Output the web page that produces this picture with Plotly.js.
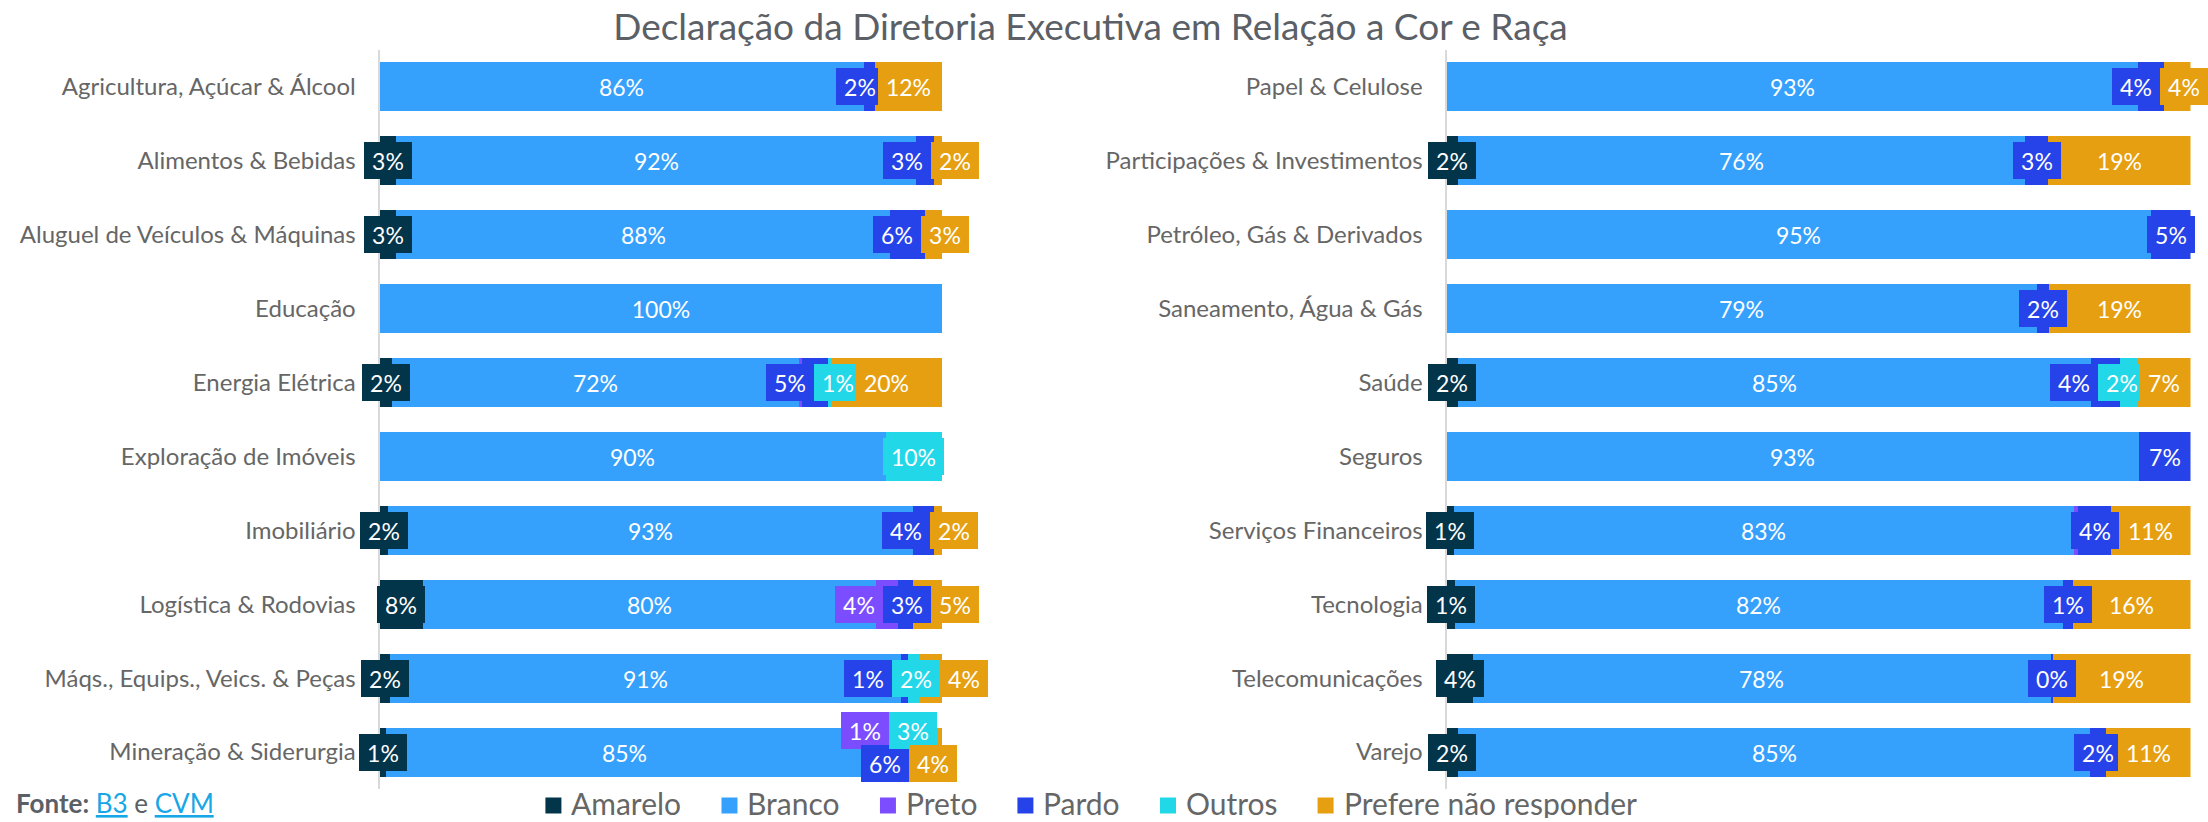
<!DOCTYPE html>
<html><head><meta charset="utf-8">
<script src="https://cdn.plot.ly/plotly-3.0.1.min.js"></script>
<style>html,body{margin:0;padding:0;background:#fff}#chart{width:2208px;height:822px}</style>
</head><body><div id="chart"></div>
<script>
// ---------------- DATA ----------------
const seriesNames = ['Amarelo', 'Branco', 'Preto', 'Pardo', 'Outros', 'Prefere não responder'];
const seriesColors = ['#02344a', '#35a1fd', '#7c4dff', '#2642e9', '#22d8e8', '#e69f10'];

const leftCategories = ['Agricultura, Açúcar & Álcool', 'Alimentos & Bebidas', 'Aluguel de Veículos & Máquinas', 'Educação', 'Energia Elétrica', 'Exploração de Imóveis', 'Imobiliário', 'Logística & Rodovias', 'Máqs., Equips., Veics. & Peças', 'Mineração & Siderurgia'];
const leftAmarelo = [0, 3.0, 3.0, 0, 2.2, 0, 1.5, 7.8, 1.8, 1.1];
const leftBranco  = [86.1, 92.4, 87.8, 100, 72.4, 90.0, 93.3, 80.4, 90.9, 85.0];
const leftPreto   = [0, 0, 0, 0, 0.5, 0, 0, 4.0, 0, 0.9];
const leftPardo   = [2.0, 3.1, 6.2, 0, 4.6, 0, 3.7, 2.6, 1.3, 6.1];
const leftOutros  = [0, 0, 0, 0, 0.6, 10.0, 0, 0, 2.0, 3.0];
const leftPrefere = [11.9, 1.5, 3.0, 0, 19.7, 0, 1.5, 5.2, 4.0, 3.9];

const rightCategories = ['Papel & Celulose', 'Participações & Investimentos', 'Petróleo, Gás & Derivados', 'Saneamento, Água & Gás', 'Saúde', 'Seguros', 'Serviços Financeiros', 'Tecnologia', 'Telecomunicações', 'Varejo'];
const rightAmarelo = [0, 1.6, 0, 0, 1.6, 0, 1.0, 1.1, 3.5, 1.6];
const rightBranco  = [92.9, 76.2, 94.7, 79.4, 85.0, 93.1, 83.3, 81.8, 77.8, 84.9];
const rightPreto   = [0, 0, 0, 0, 0, 0, 0.6, 0, 0, 0];
const rightPardo   = [3.5, 3.1, 5.3, 1.6, 3.9, 6.9, 4.4, 1.3, 0.2, 2.1];
const rightOutros  = [0, 0, 0, 0, 2.4, 0, 0, 0, 0, 0];
const rightPrefere = [3.6, 19.1, 0, 19.0, 7.1, 0, 10.7, 15.8, 18.5, 11.4];

// data labels that the original chart does not show
const hiddenLabels = [['Energia Elétrica', 'Preto'], ['Serviços Financeiros', 'Preto']];

const titleText = 'Declaração da Diretoria Executiva em Relação a Cor e Raça';
const sourceText = '<b>Fonte:</b> <span style="color:#17a6e6;text-decoration:underline">B3</span> e <span style="color:#17a6e6;text-decoration:underline">CVM</span>';

// ---------------- LAYOUT CONSTANTS ----------------
const W = 2208, H = 822;
const PLOT_TOP = 50, PLOT_BOTTOM = 789;
const LEFT_X0 = 379.5, LEFT_X1 = 942, RIGHT_X0 = 1446.5, RIGHT_X1 = 2190.5;
const FONT = 'Lato, "Open Sans", sans-serif';
const LABEL_SIZE = 23, LABEL_PAD = 8, LABEL_H = 37;

const leftValues = [leftAmarelo, leftBranco, leftPreto, leftPardo, leftOutros, leftPrefere];
const rightValues = [rightAmarelo, rightBranco, rightPreto, rightPardo, rightOutros, rightPrefere];

const ctx = document.createElement('canvas').getContext('2d');
function textW(t, size, weight) { ctx.font = (weight || 'normal') + ' ' + size + 'px Lato'; return ctx.measureText(t).width; }
function isHidden(cat, s) { return hiddenLabels.some(h => h[0] === cat && h[1] === s); }

// ---------------- TRACES ----------------
const traces = [];
seriesNames.forEach((name, si) => {
  traces.push({type: 'bar', orientation: 'h', name: name, x: leftValues[si], y: leftCategories,
    xaxis: 'x', yaxis: 'y', marker: {color: seriesColors[si], line: {width: 0}}, showlegend: false, hoverinfo: 'skip'});
  traces.push({type: 'bar', orientation: 'h', name: name, x: rightValues[si], y: rightCategories,
    xaxis: 'x2', yaxis: 'y2', marker: {color: seriesColors[si], line: {width: 0}}, showlegend: false, hoverinfo: 'skip'});
});

// ---------------- DATA LABELS (with simple collision handling) ----------------
function resolveLane(items, xmin, xmax) {
  let groups = items.map(l => ({members: [l]}));
  function layout(g) {
    g.members.sort((a, b) => a.c - b.c);
    const tot = g.members.reduce((s, m) => s + m.cw, 0);
    const fixedIdx = g.members.findIndex(m => m.fixed);
    let start;
    if (fixedIdx >= 0) {
      let before = 0; for (let i = 0; i < fixedIdx; i++) before += g.members[i].cw;
      start = g.members[fixedIdx].c - g.members[fixedIdx].cw / 2 - before;
    } else {
      const mean = g.members.reduce((s, m) => s + m.c, 0) / g.members.length;
      start = mean - tot / 2;
      if (start + tot > xmax) start = xmax - tot;
      if (start < xmin) start = xmin;
    }
    let x = start;
    g.members.forEach(m => { m.x = x + m.cw / 2; x += m.cw; });
    g.left = start; g.right = start + tot;
  }
  groups.forEach(layout);
  let changed = true, guard = 0;
  while (changed && guard++ < 50) {
    changed = false;
    groups.sort((a, b) => a.left - b.left);
    for (let i = 0; i < groups.length - 1; i++) {
      if (groups[i].right > groups[i + 1].left + 0.5) {
        const g = {members: groups[i].members.concat(groups[i + 1].members)};
        layout(g);
        groups.splice(i, 2, g);
        changed = true; break;
      }
    }
  }
}

function buildLabels(cats, vals, xref, yref, x0px, x1px, xmin, xmax) {
  const ppu = (x1px - x0px) / 100;
  const anns = [];
  cats.forEach((cat, ci) => {
    let cum = 0; const labs = [];
    vals.forEach((sv, si) => {
      const v = sv[ci];
      if (v > 0 && !isHidden(cat, seriesNames[si])) {
        const text = Math.round(v) + '%';
        const tw = textW(text, LABEL_SIZE);
        const w = Math.round(tw + 2 * LABEL_PAD);
        const c = x0px + (cum + v / 2) * ppu;
        const fixed = v * ppu >= w;
        labs.push({si, text, tw, w, c, x: c, fixed, cw: fixed ? tw + 4 : w, center: cum + v / 2, lane: 0});
      }
      cum += v;
    });
    // staggering of long chains of small labels
    const mov = labs.filter(l => !l.fixed).sort((a, b) => a.c - b.c);
    let chain = [];
    const chains = [];
    mov.forEach(l => {
      if (chain.length && chain[chain.length - 1].c + chain[chain.length - 1].cw / 2 > l.c - l.cw / 2) chain.push(l);
      else { if (chain.length) chains.push(chain); chain = [l]; }
    });
    if (chain.length) chains.push(chain);
    chains.forEach(ch => { if (ch.length >= 4) ch.forEach((l, i) => { l.lane = i % 2 === 0 ? 1 : 2; }); });
    [0, 1, 2].forEach(lane => resolveLane(labs.filter(l => l.lane === lane), xmin, xmax));
    labs.forEach(l => {
      anns.push({
        x: l.center, y: cat, xref: xref, yref: yref, text: l.text, showarrow: false,
        font: {family: FONT, size: LABEL_SIZE, color: '#ffffff'},
        bgcolor: seriesColors[l.si], borderpad: 0, borderwidth: 0,
        width: l.w, height: LABEL_H, align: 'center', valign: 'middle',
        xshift: l.x - l.c, yshift: l.lane === 1 ? 22 : (l.lane === 2 ? -11 : 0)
      });
    });
  });
  return anns;
}

let annotations = [];
annotations = annotations.concat(buildLabels(leftCategories, leftValues, 'x', 'y', LEFT_X0, LEFT_X1, 0, 1000));
annotations = annotations.concat(buildLabels(rightCategories, rightValues, 'x2', 'y2', RIGHT_X0, RIGHT_X1, 1000, W));

// ---------------- LEGEND (manual, to match spacing) ----------------
const LEG_SIZE = 30, LEG_SQ = 16, LEG_GAP = 8, LEG_ITEM_GAP = 42, LEG_CENTER = 1090, LEG_Y = 805.5, LEG_TEXT_Y = 802.5;
const legW = seriesNames.map(n => textW(n, LEG_SIZE));
const legTotal = legW.reduce((a, b) => a + b, 0) + seriesNames.length * (LEG_SQ + LEG_GAP) + (seriesNames.length - 1) * LEG_ITEM_GAP;
const shapes = [];
let lx = LEG_CENTER - legTotal / 2;
seriesNames.forEach((n, i) => {
  shapes.push({type: 'rect', xref: 'paper', yref: 'paper', x0: lx / W, x1: (lx + LEG_SQ) / W,
    y0: 1 - (LEG_Y + LEG_SQ / 2) / H, y1: 1 - (LEG_Y - LEG_SQ / 2) / H, fillcolor: seriesColors[i], line: {width: 0}});
  annotations.push({xref: 'paper', yref: 'paper', x: (lx + LEG_SQ + LEG_GAP) / W, y: 1 - LEG_TEXT_Y / H,
    xanchor: 'left', yanchor: 'middle', text: n, showarrow: false, height: 30, valign: 'middle',
    font: {family: FONT, size: LEG_SIZE, color: '#666666'}});
  lx += LEG_SQ + LEG_GAP + legW[i] + LEG_ITEM_GAP;
});

// source
annotations.push({xref: 'paper', yref: 'paper', x: 14 / W, y: 1 - 803 / H, xanchor: 'left', yanchor: 'middle',
  text: sourceText, showarrow: false, height: 30, font: {family: FONT, size: 26, color: '#5b5f66'}});

// ---------------- LAYOUT ----------------
const yDomain = [1 - PLOT_BOTTOM / H, 1 - PLOT_TOP / H];
function yAxis(cats, anchor) {
  return {type: 'category', categoryarray: cats, categoryorder: 'array', range: [cats.length - 0.5, -0.5],
    domain: yDomain, anchor: anchor, showline: true, linecolor: '#d9d9d9', linewidth: 2, showgrid: false,
    zeroline: false, ticks: '', ticklabelstandoff: 17, automargin: false, fixedrange: true,
    tickfont: {family: FONT, size: 24, color: '#666666'}};
}
function xAxis(x0, x1, anchor) {
  return {range: [0, 100], domain: [x0 / W, x1 / W], anchor: anchor, showgrid: false, zeroline: false,
    showline: false, showticklabels: false, ticks: '', fixedrange: true, automargin: false};
}
const layout = {
  width: W, height: H, margin: {l: 0, r: 0, t: 0, b: 0, pad: 0},
  paper_bgcolor: '#ffffff', plot_bgcolor: '#ffffff',
  barmode: 'stack', bargap: 0.338, showlegend: false,
  title: {text: titleText, x: 1090.5 / W, xanchor: 'center', xref: 'paper', y: 1 - 27.5 / H, yref: 'container', yanchor: 'middle',
    font: {family: FONT, size: 37, color: '#5b5f66'}},
  xaxis: xAxis(LEFT_X0, LEFT_X1, 'y'), yaxis: yAxis(leftCategories, 'x'),
  xaxis2: xAxis(RIGHT_X0, RIGHT_X1, 'y2'), yaxis2: yAxis(rightCategories, 'x2'),
  annotations: annotations, shapes: shapes
};
Plotly.newPlot('chart', traces, layout, {displayModeBar: false, staticPlot: true});
</script></body></html>
